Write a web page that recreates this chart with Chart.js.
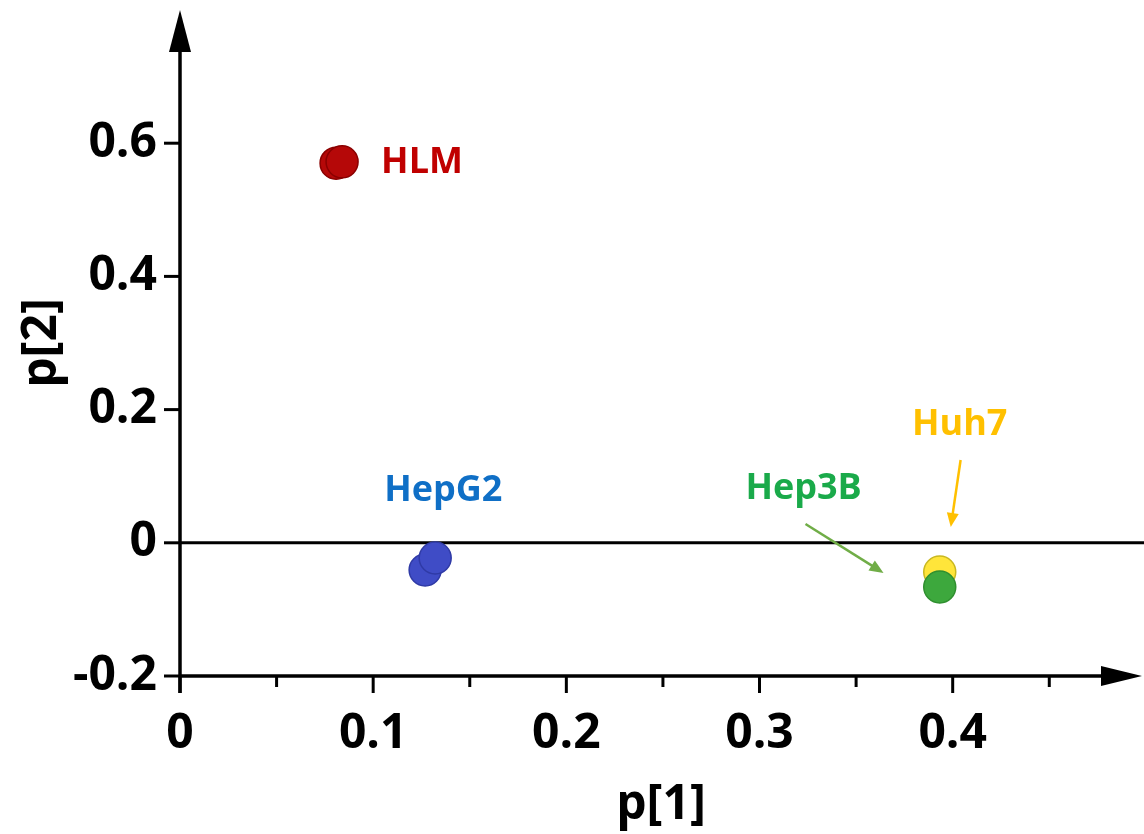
<!DOCTYPE html>
<html>
<head>
<meta charset="utf-8">
<script src="https://cdn.jsdelivr.net/npm/chart.js@4/dist/chart.umd.min.js"></script>
<style>
    html, body { margin: 0; padding: 0; background: #fff; }
</style>
</head>
<body>
<canvas id="grafico" width="1144" height="834"></canvas>
<script>
// ================== DATOS ==================

const grupos = ['HLM', 'HepG2', 'Hep3B', 'Huh7'];

// p[1] / p[2] de cada grupo (dos réplicas cada uno)
const p1HLM = [0.0808, 0.0839];
const p2HLM = [0.570, 0.572];
const p1HepG2 = [0.1269, 0.1321];
const p2HepG2 = [-0.0408, -0.0228];
const p1Hep3B = [0.3933];
const p2Hep3B = [-0.0664];
const p1Huh7 = [0.3933];
const p2Huh7 = [-0.0438];

const xTicks = [0, 0.05, 0.1, 0.15, 0.2, 0.25, 0.3, 0.35, 0.4, 0.45];
const xTickLabels = ['0', '', '0.1', '', '0.2', '', '0.3', '', '0.4', ''];
const yTicks = [-0.2, 0, 0.2, 0.4, 0.6];
const yTickLabels = ['-0.2', '0', '0.2', '0.4', '0.6'];

// etiquetas y flechas (en unidades de los ejes)
const etiquetas = [
    { texto: 'HLM', x: 0.1041, y: 0.570, color: '#c00000', align: 'left' },
    { texto: 'HepG2', x: 0.1363, y: 0.078, color: '#0f6fc6', align: 'center' },
    { texto: 'Hep3B', x: 0.3228, y: 0.081, color: '#1aaa4a', align: 'center' },
    { texto: 'Huh7', x: 0.4036, y: 0.177, color: '#ffc000', align: 'center' }
];
const flechas = [
    { x1: 0.3238, y1: 0.0282, x2: 0.3642, y2: -0.0453, color: '#70ad47' },
    { x1: 0.4041, y1: 0.1243, x2: 0.3990, y2: 0.0237, color: '#ffc000' }
];

function puntos(xs, ys) {
    return xs.map((x, i) => ({ x: x, y: ys[i] }));
}

// ================== DIBUJO DE EJES ==================

function trianguloFlecha(c, x1, y1, x2, y2, largo, ancho) {
    const ang = Math.atan2(y2 - y1, x2 - x1);
    c.beginPath();
    c.moveTo(x2, y2);
    c.lineTo(x2 - largo * Math.cos(ang) + ancho * Math.sin(ang), y2 - largo * Math.sin(ang) - ancho * Math.cos(ang));
    c.lineTo(x2 - largo * Math.cos(ang) - ancho * Math.sin(ang), y2 - largo * Math.sin(ang) + ancho * Math.cos(ang));
    c.closePath();
    c.fill();
}

const ejes = {
    id: 'ejes',
    beforeDatasetsDraw(chart) {
        const c = chart.ctx;
        const a = chart.chartArea;
        const xs = chart.scales.x, ys = chart.scales.y;
        c.save();
        c.strokeStyle = '#000';
        c.fillStyle = '#000';
        c.lineCap = 'butt';

        // linea del cero
        const y0 = ys.getPixelForValue(0);
        c.lineWidth = 3;
        c.beginPath();
        c.moveTo(a.left, y0);
        c.lineTo(chart.width, y0);
        c.stroke();

        // eje y
        c.lineWidth = 3.5;
        c.beginPath();
        c.moveTo(a.left, a.bottom + 17);
        c.lineTo(a.left, a.top + 38);
        c.stroke();
        trianguloFlecha(c, a.left, a.bottom, a.left, a.top, 42, 11);

        // eje x
        c.beginPath();
        c.moveTo(a.left, a.bottom);
        c.lineTo(a.right - 36, a.bottom);
        c.stroke();
        trianguloFlecha(c, a.left, a.bottom, a.right, a.bottom, 41, 10);

        // marcas
        c.lineWidth = 3;
        xTicks.forEach((v, i) => {
            const px = xs.getPixelForValue(v);
            const largo = xTickLabels[i] ? 17 : 11;
            c.beginPath();
            c.moveTo(px, a.bottom);
            c.lineTo(px, a.bottom + largo);
            c.stroke();
        });
        yTicks.forEach(v => {
            const py = ys.getPixelForValue(v);
            c.beginPath();
            c.moveTo(a.left - 16, py);
            c.lineTo(a.left, py);
            c.stroke();
        });
        c.restore();
    },
    afterDatasetsDraw(chart) {
        const c = chart.ctx;
        const xs = chart.scales.x, ys = chart.scales.y;
        c.save();
        flechas.forEach(f => {
            const x1 = xs.getPixelForValue(f.x1), y1 = ys.getPixelForValue(f.y1);
            const x2 = xs.getPixelForValue(f.x2), y2 = ys.getPixelForValue(f.y2);
            c.strokeStyle = f.color;
            c.fillStyle = f.color;
            c.lineWidth = 2.5;
            const ang = Math.atan2(y2 - y1, x2 - x1);
            c.beginPath();
            c.moveTo(x1, y1);
            c.lineTo(x2 - 10 * Math.cos(ang), y2 - 10 * Math.sin(ang));
            c.stroke();
            trianguloFlecha(c, x1, y1, x2, y2, 14, 6);
        });
        c.font = 'bold 36px "Open Sans"';
        c.textBaseline = 'middle';
        etiquetas.forEach(e => {
            c.fillStyle = e.color;
            c.textAlign = e.align;
            c.fillText(e.texto, xs.getPixelForValue(e.x), ys.getPixelForValue(e.y));
        });
        c.restore();
    }
};

// ================== GRÁFICO ==================

Chart.defaults.font.family = '"Open Sans", sans-serif';
Chart.defaults.font.weight = 'bold';
Chart.defaults.color = '#000';

const ctx = document.getElementById('grafico');

const grafico = new Chart(ctx, {
    type: 'scatter',
    data: {
        datasets: [
            { label: grupos[0], data: puntos(p1HLM, p2HLM), backgroundColor: '#b50808', borderColor: '#8a0000' },
            { label: grupos[1], data: puntos(p1HepG2, p2HepG2), backgroundColor: '#3f4cc6', borderColor: '#2f3aa6' },
            { label: grupos[2], data: puntos(p1Hep3B, p2Hep3B), backgroundColor: '#3da83d', borderColor: '#2f8f2f' },
            { label: grupos[3], data: puntos(p1Huh7, p2Huh7), backgroundColor: '#ffe53a', borderColor: '#c9b820' }
        ]
    },
    options: {
        responsive: false,
        animation: false,
        layout: { autoPadding: false, padding: { top: 10, right: 2, left: 0, bottom: 0 } },
        elements: { point: { radius: 16, borderWidth: 1.5, hoverRadius: 16 } },
        plugins: {
            legend: { display: false },
            tooltip: { enabled: false }
        },
        scales: {
            x: {
                type: 'linear',
                min: 0,
                max: 0.498,
                border: { display: false },
                grid: { display: false, drawTicks: false },
                afterBuildTicks: s => { s.ticks = xTicks.map(v => ({ value: v })); },
                afterFit: s => { s.height = 158; s.paddingLeft = 0; s.paddingRight = 0; },
                ticks: {
                    autoSkip: false,
                    maxRotation: 0,
                    padding: 30,
                    font: { size: 48, weight: 'bold' },
                    callback: (v, i) => xTickLabels[i]
                },
                title: {
                    display: true,
                    text: 'p[1]',
                    padding: { top: 0, bottom: 0 },
                    font: { size: 48, weight: 'bold' }
                }
            },
            y: {
                type: 'linear',
                min: -0.2,
                max: 0.8,
                border: { display: false },
                grid: { display: false, drawTicks: false },
                afterBuildTicks: s => { s.ticks = yTicks.map(v => ({ value: v })); },
                afterFit: s => { s.width = 180; s.paddingTop = 0; s.paddingBottom = 0; },
                ticks: {
                    autoSkip: false,
                    padding: 23,
                    font: { size: 48, weight: 'bold' },
                    callback: (v, i) => yTickLabels[i]
                },
                title: {
                    display: true,
                    text: 'p[2]',
                    padding: { top: 14, bottom: 0 },
                    font: { size: 48, weight: 'bold' }
                }
            }
        }
    },
    plugins: [ejes]
});
</script>
</body>
</html>
